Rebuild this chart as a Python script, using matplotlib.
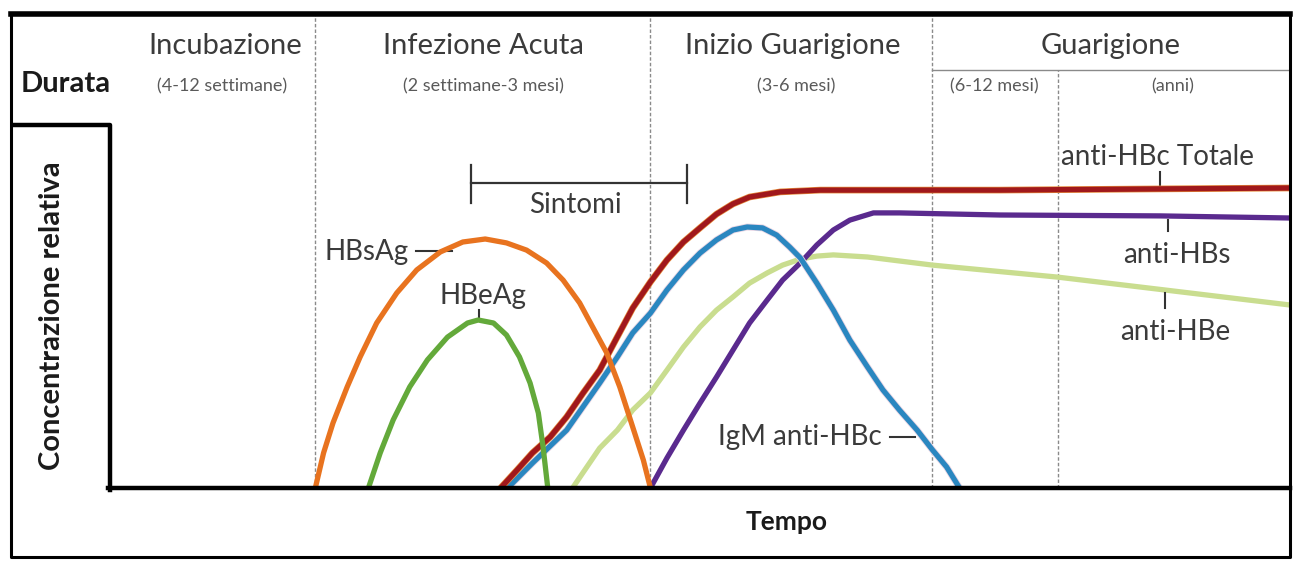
import matplotlib
matplotlib.use("Agg")
import matplotlib.pyplot as plt
import matplotlib.patheffects as pe

plt.rcParams["font.family"] = ["Lato", "DejaVu Sans"]

# time runs 0-100 across the plot, concentration 100 = anti-HBc plateau
phase_names = ["Incubazione", "Infezione Acuta", "Inizio Guarigione", "Guarigione"]
phase_durations = ["(4-12 settimane)", "(2 settimane-3 mesi)", "(3-6 mesi)",
                   "(6-12 mesi)", "(anni)"]
phase_bounds = [17.4, 45.8, 69.7, 80.3]
sintomi_span = [30.6, 48.9]

hbsag_t = [17.4, 18.1, 18.9, 20.1, 21.2, 22.6, 24.3, 26.0, 28.0, 29.9, 31.8,
           33.6, 35.3, 37.0, 38.4, 39.8, 40.9, 42.1, 43.2, 44.3, 45.2, 45.8]
hbsag_c = [0, 11.7, 21.7, 33.7, 43.7, 55, 65, 72.7, 78.7, 82, 83,
           81.7, 79.3, 75, 69.3, 61.7, 53.7, 45, 33.7, 20.3, 9.3, 0]

hbeag_t = [21.9, 22.9, 24.0, 25.4, 26.9, 28.6, 30.3, 31.2, 32.5, 33.6, 34.7,
           35.6, 36.3, 36.7, 37.1]
hbeag_c = [0, 11.7, 22.7, 33.7, 42.7, 50.3, 55, 56, 55, 51, 43.7,
           35, 25, 13.7, 0]

hbc_tot_t = [33.1, 34.5, 35.8, 37.3, 38.7, 40.1, 41.5, 42.9, 44.3, 45.8, 47.2,
             48.6, 50.0, 51.4, 52.8, 54.2, 56.8, 60.2, 75.4, 89.0, 100]
hbc_tot_c = [0, 6, 11.7, 17, 23.7, 31.7, 39.3, 49.7, 60, 68.7, 76,
             82, 86.7, 91.3, 94.7, 97, 98.7, 99.3, 99.3, 99.7, 100]

igm_t = [33.7, 35.8, 38.7, 41.5, 43.0, 44.3, 45.8, 47.2, 48.6, 50.0, 51.4,
         52.8, 54.0, 55.3, 56.5, 57.6, 58.5, 59.9, 61.3, 62.7, 64.2, 65.5,
         66.9, 68.4, 69.7, 70.9, 72.0]
igm_c = [0, 8.3, 19.3, 35, 43.7, 51.7, 58.3, 66, 72.7, 78.3, 82.7,
         86, 87, 86.7, 84.3, 80.3, 76.7, 68.3, 59.3, 49.3, 40.3, 32.7,
         26, 19.3, 12.7, 7, 0]

hbs_t = [45.8, 47.2, 48.6, 50.0, 51.4, 52.8, 54.2, 55.7, 57.0, 58.5, 59.9,
         61.3, 62.7, 64.7, 66.9, 75.4, 89.0, 100]
hbs_c = [0, 10, 19.3, 28.3, 37, 46, 55, 62.7, 69.3, 75, 81,
         86, 89.3, 91.7, 91.7, 91, 90.7, 90]

hbe_t = [39.2, 41.5, 43.0, 44.3, 45.8, 47.2, 48.6, 50.0, 51.4, 52.8, 54.2,
         55.7, 57.0, 58.5, 59.9, 61.3, 64.2, 69.7, 80.3, 100]
hbe_c = [0, 13.3, 19.3, 26, 31.7, 39.3, 47, 53.7, 59.3, 63.7, 68.3,
         71.7, 74.3, 76.3, 77.3, 77.7, 77, 74.3, 70.3, 61]

W, H = 1295, 562
TXT = "#3b3b3b"
SUB = "#5a5a5a"
LW = 3.8

fig = plt.figure(figsize=(W / 100, H / 100), dpi=100)

# plot area: x 110..1290 px, y 488..14 px
ax = fig.add_axes([110 / W, (H - 488) / H, 1180 / W, (488 - 14) / H])
ax.set_xlim(0, 100)
ax.set_ylim(0, (488 - 14) / 3)
ax.axis("off")


def c_px(py):
    return (488 - py) / 3


# phase separators
sep_tops = [1, 1, 1, (488 - 70) / (488 - 14)]
for b, top in zip(phase_bounds, sep_tops):
    ax.axvline(b, ymin=0, ymax=top, color="#8a8a8a", lw=1.0,
               ls=(0, (2.5, 1.5)), zorder=1)
ax.plot([phase_bounds[2], 100], [c_px(70), c_px(70)], color="#8a8a8a", lw=1.0, zorder=1)

# curves
line = dict(lw=LW, solid_capstyle="butt", solid_joinstyle="round")
ax.plot(hbe_t, hbe_c, color="#c9dd8f", zorder=2, **line)
ax.plot(hbs_t, hbs_c, color="#5a2a8e", zorder=3, **line)
ax.plot(igm_t, igm_c, color="#2a87c0", zorder=4,
        path_effects=[pe.Stroke(linewidth=LW + 1.2, foreground="#e9d6e4"), pe.Normal()],
        **line)
ax.plot(hbc_tot_t, hbc_tot_c, color="#a0181c", zorder=5,
        path_effects=[pe.Stroke(linewidth=LW + 1.0, foreground="#e58a3a"), pe.Normal()],
        **line)
ax.plot(hbeag_t, hbeag_c, color="#63a93a", zorder=6, **line)
ax.plot(hbsag_t, hbsag_c, color="#e8731f", zorder=7, **line)

# symptoms bar
s0, s1 = sintomi_span
ax.plot([s0, s1], [c_px(183), c_px(183)], color="#333333", lw=1.6)
for s in sintomi_span:
    ax.plot([s, s], [c_px(165), c_px(203)], color="#333333", lw=1.6)
ax.text((s0 + s1) / 2 - 0.3, c_px(205), "Sintomi", ha="center", va="center",
        fontsize=20, color=TXT)

# curve labels
lab = dict(fontsize=20, color=TXT, va="center")
ax.text(25.3, c_px(252), "HBsAg", ha="right", **lab)
ax.plot([25.9, 29.0], [c_px(251), c_px(251)], color="#333333", lw=1.5)
ax.text(31.6, c_px(296), "HBeAg", ha="center", **lab)
ax.plot([31.3, 31.3], [c_px(310), c_px(320)], color="#333333", lw=1.5)
ax.text(65.4, c_px(437), "IgM anti-HBc", ha="right", **lab)
ax.plot([66.1, 68.2], [c_px(437), c_px(437)], color="#333333", lw=1.5)
ax.text(88.8, c_px(157), "anti-HBc Totale", ha="center", **lab)
ax.plot([89.0, 89.0], [c_px(172), c_px(189)], color="#333333", lw=1.5)
ax.text(90.4, c_px(255), "anti-HBs", ha="center", **lab)
ax.plot([89.7, 89.7], [c_px(220), c_px(231)], color="#333333", lw=1.5)
ax.text(90.3, c_px(332), "anti-HBe", ha="center", **lab)
ax.plot([89.4, 89.4], [c_px(293), c_px(308)], color="#333333", lw=1.5)

# overlay in pixel coordinates for frame and headings
ov = fig.add_axes([0, 0, 1, 1], facecolor="none")
ov.set_xlim(0, W)
ov.set_ylim(H, 0)
ov.axis("off")

ov.plot([11, 1290], [14, 14], color="black", lw=4.0, solid_capstyle="projecting")
ov.plot([11, 11, 1290, 1290], [14, 557, 557, 14], color="black", lw=2.2)
ov.plot([13, 110, 110], [125, 125, 490], color="black", lw=3.2, solid_capstyle="projecting")
ov.plot([108, 1290], [488, 488], color="black", lw=3.2)

title_x = [225, 483, 793, 1111]
for x, name in zip(title_x, phase_names):
    ov.text(x, 46, name, ha="center", va="center", fontsize=21, color=TXT)
dur_x = [222, 483, 796, 994, 1173]
for x, d in zip(dur_x, phase_durations):
    ov.text(x, 86, d, ha="center", va="center", fontsize=13, color=SUB)

ov.text(66, 84, "Durata", ha="center", va="center", fontsize=21,
        fontweight="bold", color="#1a1a1a")
ov.text(52, 316, "Concentrazione relativa", ha="center", va="center", rotation=90,
        fontsize=21, fontweight="bold", color="#1a1a1a")
ov.text(787, 522, "Tempo", ha="center", va="center", fontsize=19,
        fontweight="bold", color="#1a1a1a")

fig.savefig("out.png", dpi=100)
